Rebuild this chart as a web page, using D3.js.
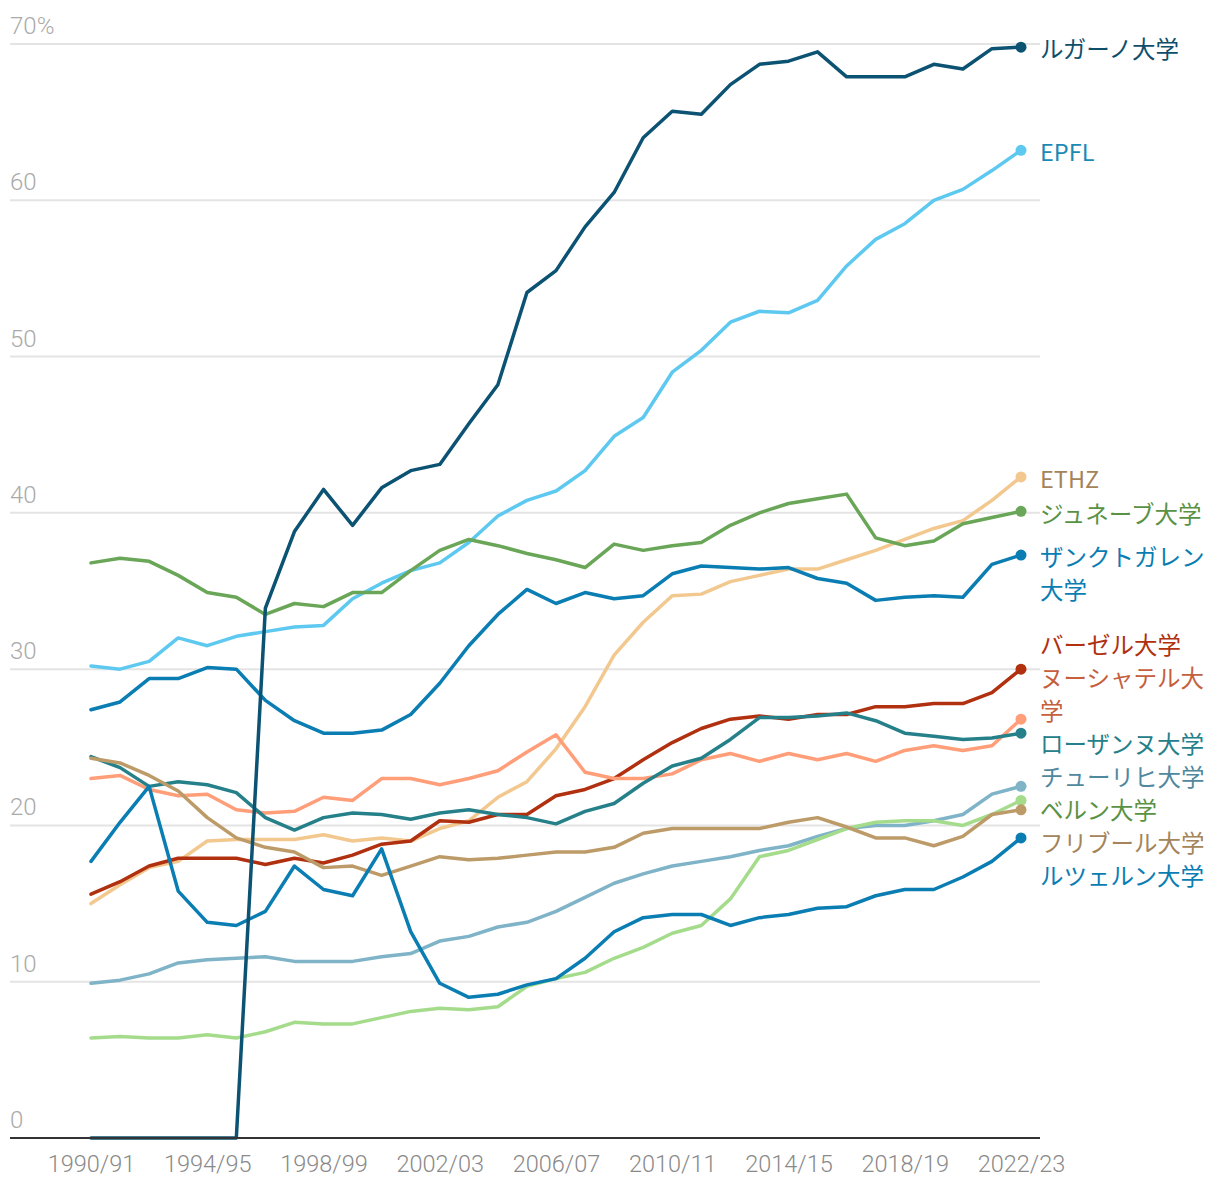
<!DOCTYPE html>
<html><head><meta charset="utf-8">
<script src="https://cdn.jsdelivr.net/npm/d3@7/dist/d3.min.js"></script>
<style>
html,body{margin:0;padding:0;background:#fff;}
svg{display:block;}
</style></head>
<body>
<svg id="chart" width="1220" height="1190"></svg>
<script>
const years = ["1990/91","1991/92","1992/93","1993/94","1994/95","1995/96","1996/97","1997/98","1998/99","1999/00",
"2000/01","2001/02","2002/03","2003/04","2004/05","2005/06","2006/07","2007/08","2008/09","2009/10",
"2010/11","2011/12","2012/13","2013/14","2014/15","2015/16","2016/17","2017/18","2018/19","2019/20",
"2020/21","2021/22","2022/23"];
const tickLabels = ["1990/91","1994/95","1998/99","2002/03","2006/07","2010/11","2014/15","2018/19","2022/23"];
const yTicks = [0,10,20,30,40,50,60,70];

const lugano    = [0,0,0,0,0,0,33.9,38.8,41.5,39.2,41.6,42.7,43.1,45.7,48.2,54.1,55.5,58.3,60.5,64.0,65.7,65.5,67.4,68.7,68.9,69.5,67.9,67.9,67.9,68.7,68.4,69.7,69.8];
const epfl      = [30.2,30.0,30.5,32.0,31.5,32.1,32.4,32.7,32.8,34.5,35.5,36.3,36.8,38.1,39.8,40.8,41.4,42.7,44.9,46.1,49.0,50.4,52.2,52.9,52.8,53.6,55.8,57.5,58.5,60.0,60.7,61.9,63.2];
const ethz      = [15.0,16.2,17.3,17.7,19.0,19.1,19.1,19.1,19.4,19.0,19.2,19.0,19.8,20.3,21.8,22.8,24.9,27.6,30.9,33.0,34.7,34.8,35.6,36.0,36.4,36.4,37.0,37.6,38.3,39.0,39.5,40.8,42.3];
const geneva    = [36.8,37.1,36.9,36.0,34.9,34.6,33.5,34.2,34.0,34.9,34.9,36.3,37.6,38.3,37.9,37.4,37.0,36.5,38.0,37.6,37.9,38.1,39.2,40.0,40.6,40.9,41.2,38.4,37.9,38.2,39.3,39.7,40.1];
const stgallen  = [27.4,27.9,29.4,29.4,30.1,30.0,28.0,26.7,25.9,25.9,26.1,27.1,29.1,31.5,33.5,35.1,34.2,34.9,34.5,34.7,36.1,36.6,36.5,36.4,36.5,35.8,35.5,34.4,34.6,34.7,34.6,36.7,37.3];
const basel     = [15.6,16.4,17.4,17.9,17.9,17.9,17.5,17.9,17.6,18.1,18.8,19.0,20.3,20.2,20.7,20.7,21.9,22.3,23.0,24.2,25.3,26.2,26.8,27.0,26.8,27.1,27.1,27.6,27.6,27.8,27.8,28.5,30.0];
const neuchatel = [23.0,23.2,22.3,21.9,22.0,21.0,20.8,20.9,21.8,21.6,23.0,23.0,22.6,23.0,23.5,24.7,25.8,23.4,23.0,23.0,23.3,24.2,24.6,24.1,24.6,24.2,24.6,24.1,24.8,25.1,24.8,25.1,26.8];
const lausanne  = [24.4,23.7,22.5,22.8,22.6,22.1,20.5,19.7,20.5,20.8,20.7,20.4,20.8,21.0,20.7,20.5,20.1,20.9,21.4,22.7,23.8,24.3,25.5,26.9,26.9,27.0,27.2,26.7,25.9,25.7,25.5,25.6,25.9];
const zurich    = [9.9,10.1,10.5,11.2,11.4,11.5,11.6,11.3,11.3,11.3,11.6,11.8,12.6,12.9,13.5,13.8,14.5,15.4,16.3,16.9,17.4,17.7,18.0,18.4,18.7,19.3,19.8,20.0,20.0,20.3,20.7,22.0,22.5];
const bern      = [6.4,6.5,6.4,6.4,6.6,6.4,6.8,7.4,7.3,7.3,7.7,8.1,8.3,8.2,8.4,9.7,10.2,10.6,11.5,12.2,13.1,13.6,15.3,18.0,18.4,19.1,19.8,20.2,20.3,20.3,20.0,20.7,21.6];
const fribourg  = [24.3,24.0,23.2,22.2,20.5,19.2,18.6,18.3,17.3,17.4,16.8,17.4,18.0,17.8,17.9,18.1,18.3,18.3,18.6,19.5,19.8,19.8,19.8,19.8,20.2,20.5,19.9,19.2,19.2,18.7,19.3,20.7,21.0];
const lucerne   = [17.7,20.2,22.5,15.8,13.8,13.6,14.5,17.4,15.9,15.5,18.5,13.2,9.9,9.0,9.2,9.8,10.2,11.5,13.2,14.1,14.3,14.3,13.6,14.1,14.3,14.7,14.8,15.5,15.9,15.9,16.7,17.7,19.2];

const names = ["ルガーノ大学","EPFL","ETHZ","ジュネーブ大学","ザンクトガレン大学","バーゼル大学","ヌーシャテル大学","ローザンヌ大学","チューリヒ大学","ベルン大学","フリブール大学","ルツェルン大学"];
const seriesValues = [lugano,epfl,ethz,geneva,stgallen,basel,neuchatel,lausanne,zurich,bern,fribourg,lucerne];
const lineColors  = ["#0b5273","#5ec9f0","#f2c88f","#6aa657","#0a7db3","#b0300f","#ff9e78","#26808a","#7fb3c7","#a5dc8c","#bd9b68","#0a7db3"];
const labelColors = ["#0d4f6b","#1a8ab5","#a4845a","#5a9245","#0a7db3","#b0300f","#c55f3e","#26808a","#50889e","#5a9245","#a4845a","#0a7db3"];

const series = names.map((n,i)=>({name:n, values:seriesValues[i], line:lineColors[i], label:labelColors[i]}));

const svg = d3.select("#chart");
const x = d3.scalePoint().domain(years).range([91,1021]);
const y = d3.scaleLinear().domain([0,70]).range([1138,44]);
const gridLeft = 10, gridRight = 1040;

// grid
const grid = svg.append("g");
grid.selectAll("line").data(yTicks.filter(d=>d>0)).join("line")
  .attr("x1",gridLeft).attr("x2",gridRight)
  .attr("y1",d=>y(d)).attr("y2",d=>y(d))
  .attr("stroke","#e4e4e4").attr("stroke-width",2);
grid.selectAll("text").data(yTicks).join("text")
  .attr("x",gridLeft).attr("y",d=>y(d)-10)
  .attr("fill","#aaaaaa").attr("font-family","Roboto, 'Noto Sans', sans-serif").attr("font-weight",300)
  .attr("font-size",24)
  .text(d=>d===70? d+"%": d);

// x axis
const xAxis = d3.axisBottom(x).tickValues(tickLabels).tickSize(0).tickPadding(17);
const gx = svg.append("g").attr("transform",`translate(0,${y(0)})`).call(xAxis);
gx.select(".domain").remove();
gx.selectAll("text").attr("fill","#8a8a8a").attr("font-family","Roboto, 'Noto Sans', sans-serif").attr("font-weight",300).attr("font-size",23.5);

// lines
const line = d3.line().x((d,i)=>x(years[i])).y(d=>y(d));
const drawOrder = series.slice(1).concat([series[0]]);
svg.append("g").selectAll("path").data(drawOrder).join("path")
  .attr("d",d=>line(d.values)).attr("fill","none")
  .attr("stroke",d=>d.line).attr("stroke-width",3.5).attr("stroke-linejoin","round").attr("stroke-linecap","round");

// baseline axis
svg.append("line").attr("x1",gridLeft).attr("x2",gridRight).attr("y1",y(0)).attr("y2",y(0))
  .attr("stroke","#333").attr("stroke-width",2);

// end dots
svg.append("g").selectAll("circle").data(series).join("circle")
  .attr("cx",x(years[years.length-1])).attr("cy",d=>y(d.values[d.values.length-1]))
  .attr("r",5.5).attr("fill",d=>d.line);

// labels with wrapping + dodge
const labelX = 1040, maxW = 174, lineH = 33;
const lg = svg.append("g").attr("font-family","'Noto Sans CJK JP', 'Noto Sans', sans-serif").attr("font-size",23.5);
const items = series.map(s=>{
  const t = lg.append("text").attr("x",labelX).attr("fill",s.label);
  const chars = Array.from(s.name);
  const lines = []; let cur = "";
  const probe = lg.append("text").attr("x",-1000);
  chars.forEach(c=>{
    probe.text(cur+c);
    if (cur && probe.node().getComputedTextLength() > maxW) { lines.push(cur); cur = c; }
    else cur += c;
  });
  lines.push(cur); probe.remove();
  return {s, t, lines, target:y(s.values[s.values.length-1])+3, h:lines.length*lineH};
});
items.sort((a,b)=>a.target-b.target);
let clusters = items.map(it=>({items:[it], top:it.target-lineH/2, h:it.h}));
function place(c){
  let off=0, sum=0;
  c.items.forEach(it=>{ sum += it.target-(off+lineH/2); off += it.h; });
  c.h = off; c.top = sum/c.items.length;
}
let changed = true;
while(changed){
  changed=false;
  for(let i=1;i<clusters.length;i++){
    const a=clusters[i-1], b=clusters[i];
    if(a.top+a.h > b.top+0.01){
      const m={items:a.items.concat(b.items)}; place(m);
      clusters.splice(i-1,2,m); changed=true; break;
    }
  }
}
clusters.forEach(c=>{
  let off=c.top;
  c.items.forEach(it=>{
    it.lines.forEach((ln,k)=>{
      it.t.append("tspan").attr("x",labelX).attr("y",off+lineH/2+k*lineH).attr("dy","0.35em").text(ln);
    });
    off += it.h;
  });
});
</script>
</body></html>
